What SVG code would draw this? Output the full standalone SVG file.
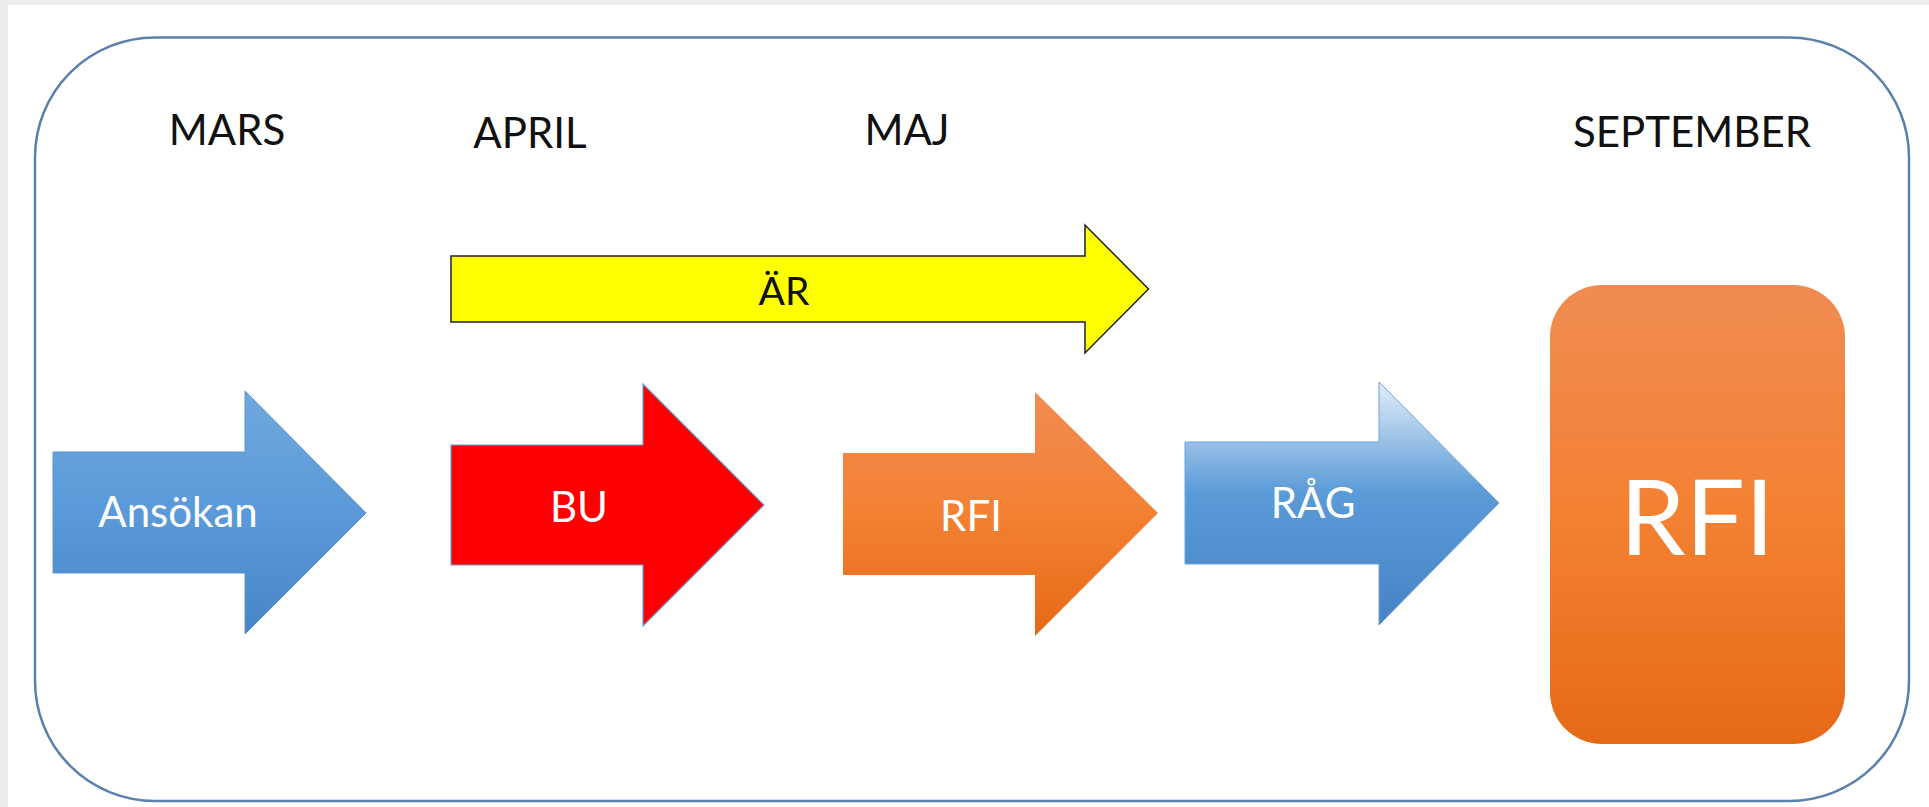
<svg xmlns="http://www.w3.org/2000/svg" width="1929" height="807" viewBox="0 0 1929 807">
<style>
.lbl{font-family:Lato,"Open Sans","Liberation Sans",sans-serif;text-anchor:middle}
.month{font-size:42px;fill:#111}
.white{fill:#fff;font-size:42px}
</style>
<defs>
<linearGradient id="gBlue" x1="0" y1="0" x2="0" y2="1">
<stop offset="0" stop-color="#6fa8dd"/><stop offset="0.5" stop-color="#5a9ad9"/><stop offset="1" stop-color="#4686c6"/>
</linearGradient>
<linearGradient id="gRag" x1="0" y1="0" x2="0" y2="1">
<stop offset="0" stop-color="#e3edf8"/><stop offset="0.45" stop-color="#5b9bd8"/><stop offset="1" stop-color="#4484c4"/>
</linearGradient>
<linearGradient id="gOrange" x1="0" y1="0" x2="0" y2="1">
<stop offset="0" stop-color="#f08c52"/><stop offset="0.5" stop-color="#f38132"/><stop offset="1" stop-color="#e56a17"/>
</linearGradient>
</defs>
<rect width="1929" height="807" fill="#ffffff"/>
<rect x="0" y="0" width="1929" height="5" fill="#ececec"/>
<rect x="0" y="0" width="8" height="807" fill="#ececec"/>
<rect x="35" y="37.5" width="1874" height="763.5" rx="120" ry="120" fill="#ffffff" stroke="#5a80ad" stroke-width="2.5"/>

<g id="months">
<text class="lbl month" x="227" y="145">MARS</text>
<text class="lbl month" x="530" y="148">APRIL</text>
<text class="lbl month" x="907" y="145">MAJ</text>
<text class="lbl month" x="1692" y="147">SEPTEMBER</text>
</g>

<g id="connectors"></g>

<g id="node-ar">
<polygon points="451,256 1085,256 1085,225 1148.5,289 1085,353 1085,322 451,322" fill="#ffff00" stroke="#222" stroke-width="1.5"/>
<text class="lbl" x="784" y="305" font-size="39" fill="#111">ÄR</text>
</g>

<g id="node-ansokan">
<polygon points="53,452 245,452 245,391 366,513 245,634 245,573 53,573" fill="url(#gBlue)" stroke="#5b95cf" stroke-width="1"/>
<text class="lbl white" x="178" y="527">Ansökan</text>
</g>

<g id="node-bu">
<polygon points="451,445 643,445 643,384 764,505 643,626 643,565 451,565" fill="#ff0000" stroke="#6d9bd6" stroke-width="1.2"/>
<text class="lbl white" x="579" y="522">BU</text>
</g>

<g id="node-rfi-arrow">
<polygon points="843,453 1035,453 1035,392 1158,513 1035,636 1035,575 843,575" fill="url(#gOrange)"/>
<text class="lbl white" x="971" y="531">RFI</text>
</g>

<g id="node-rag">
<polygon points="1185,442 1379,442 1379,382 1499,503 1379,625 1379,564 1185,564" fill="url(#gRag)" stroke="#6fa3d9" stroke-width="1"/>
<text class="lbl white" x="1313" y="518">RÅG</text>
</g>

<g id="node-rfi-box">
<rect x="1550" y="285" width="295" height="459" rx="52" ry="52" fill="url(#gOrange)"/>
<text class="lbl" x="1697" y="555" font-size="105" fill="#fff">RFI</text>
</g>
</svg>
